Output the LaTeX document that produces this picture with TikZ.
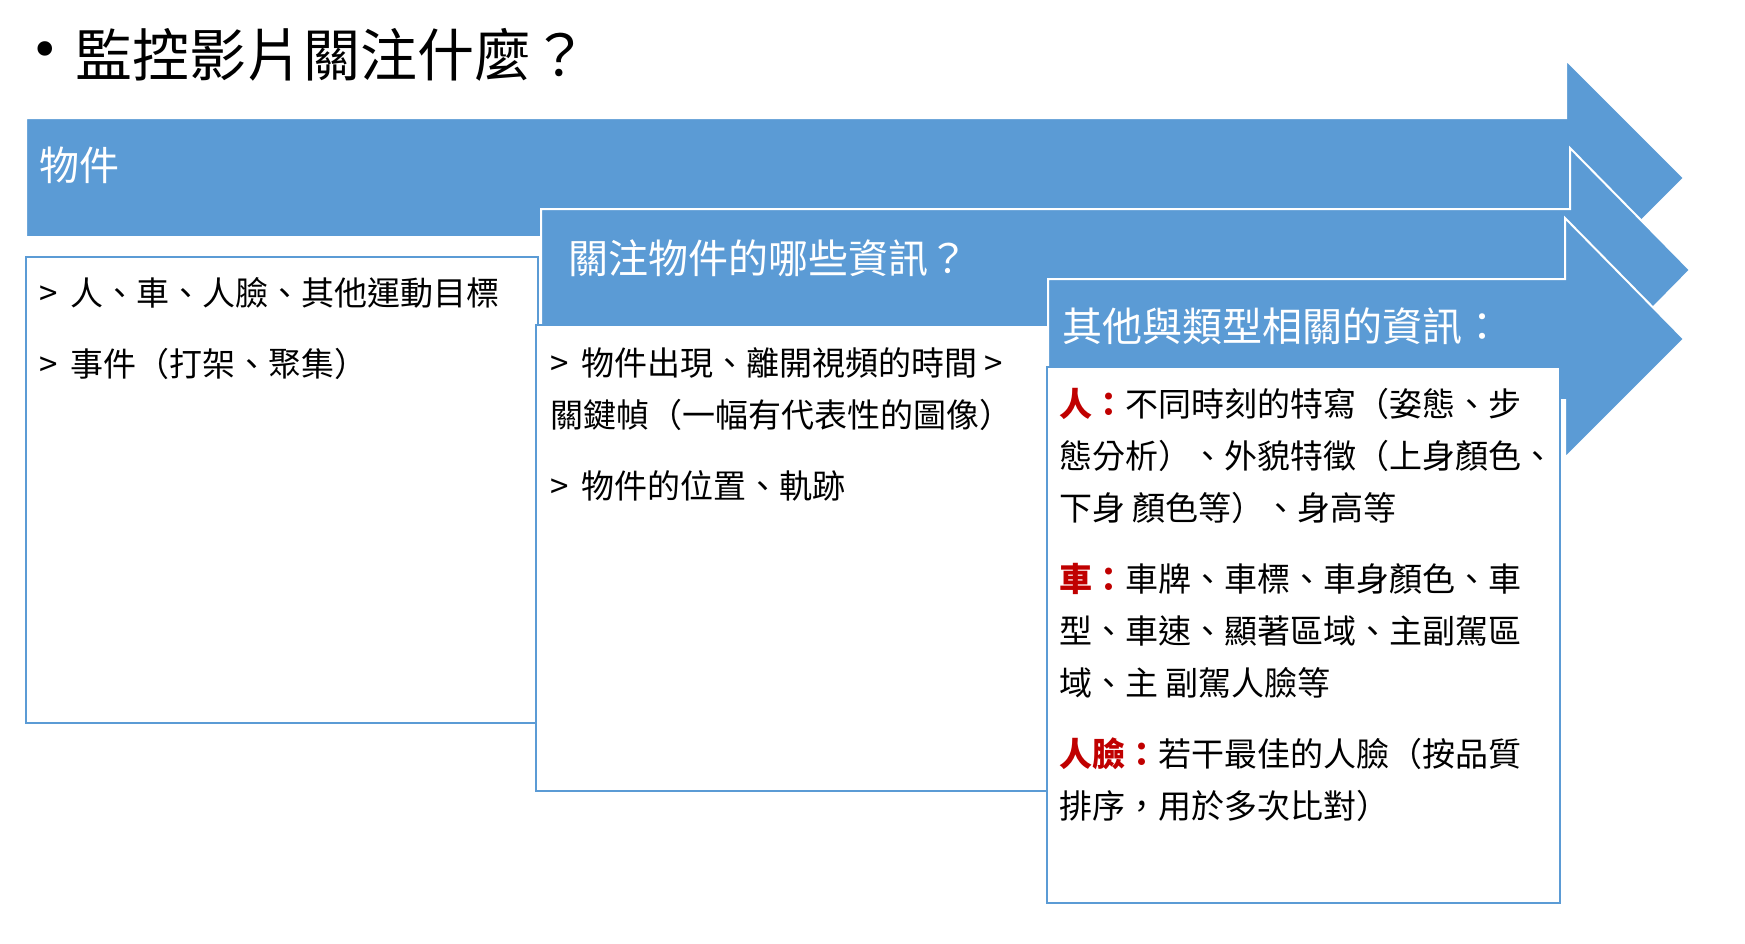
\documentclass[tikz,border=0pt]{standalone}
\usepackage{fontspec}
\setmainfont{Noto Sans CJK TC}
\newfontfamily\symfont{DejaVu Sans}
\definecolor{bandblue}{HTML}{5B9BD5}
\definecolor{keyred}{HTML}{C00000}
\newcommand{\keyword}[1]{\textcolor{keyred}{\textbf{#1}}}
\newcommand{\itemmark}{>\hspace{13pt}}
\begin{document}
\begin{tikzpicture}
  [x=1pt,y=-1pt,
   band/.style={fill=bandblue,draw=white,line width=2pt},
   card/.style={fill=white,draw=bandblue,line width=1.5pt},
   head/.style={anchor=north west,inner sep=0pt,text=white,font=\fontsize{40}{48}\selectfont},
   body/.style={anchor=north west,inner sep=0pt,align=left,font=\fontsize{33}{52}\selectfont}]
  \useasboundingbox (0,0) rectangle (1745,943);
  \node [inner sep=0pt,font=\symfont\fontsize{50}{50}\selectfont] (dot) at (45,55) {•};
  \node [anchor=north west,inner sep=0pt,font=\fontsize{57}{60}\selectfont] (title) at (75,28) {監控影片關注什麼？};
  % step 1
  \path [band] (26,118) -- (1566,118) -- (1566,60) -- (1684,178) -- (1566,296) -- (1566,237) -- (26,237) -- cycle;
  \node [head] (headObj) at (39,147) {物件};
  \draw [card] (26,257) rectangle (538,723);
  \node [body] (listObj) at (39,277) {\itemmark 人、車、人臉、其他運動目標\\[19pt]
    \itemmark 事件（打架、聚集）};
  % step 2
  \path [band] (541,209) -- (1570,209) -- (1570,148) -- (1690,270) -- (1570,392) -- (1570,331) -- (541,331) -- cycle;
  \node [head] (headInfo) at (568,240) {關注物件的哪些資訊？};
  \draw [card] (536,325) rectangle (1100,791);
  \node [body] (listInfo) at (550,347) {\itemmark 物件出現、離開視頻的時間 >\\
    關鍵幀（一幅有代表性的圖像）\\[19pt]
    \itemmark 物件的位置、軌跡};
  % step 3
  \path [band] (1048,279) -- (1565,279) -- (1565,218) -- (1684,339) -- (1565,458) -- (1565,400) -- (1048,400) -- cycle;
  \node [head] (headType) at (1062,308) {其他與類型相關的資訊：};
  \draw [card] (1047,367) rectangle (1560,903);
  \node [body] (listType) at (1059,388) {\keyword{人：}不同時刻的特寫（姿態、步\\
    態分析）、外貌特徵（上身顏色、\\
    下身 顏色等）、身高等\\[19pt]
    \keyword{車：}車牌、車標、車身顏色、車\\
    型、車速、顯著區域、主副駕區\\
    域、主 副駕人臉等\\[19pt]
    \keyword{人臉：}若干最佳的人臉（按品質\\
    排序，用於多次比對）};
\end{tikzpicture}
\end{document}
